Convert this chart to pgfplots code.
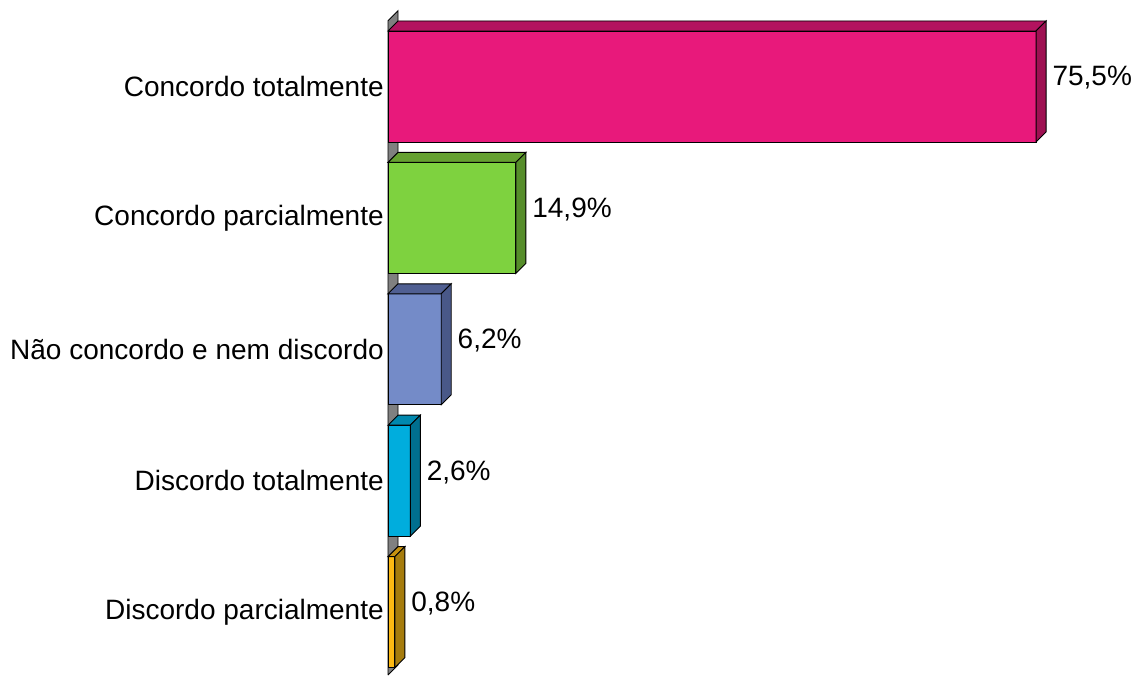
\documentclass[border=0pt]{standalone}
\usepackage{pgfplots}
\pgfplotsset{compat=1.18}
\usepackage{pgfplotstable}
\usepackage{fontspec}
\setmainfont{Liberation Sans}

\definecolor{f0}{HTML}{E8197B}\definecolor{t0}{HTML}{B3135F}\definecolor{s0}{HTML}{9E1152}
\definecolor{f1}{HTML}{7ED23F}\definecolor{t1}{HTML}{66A131}\definecolor{s1}{HTML}{568D2A}
\definecolor{f2}{HTML}{748BC8}\definecolor{t2}{HTML}{505F92}\definecolor{s2}{HTML}{495888}
\definecolor{f3}{HTML}{00ADDD}\definecolor{t3}{HTML}{0088AE}\definecolor{s3}{HTML}{006F8F}
\definecolor{f4}{HTML}{FDB913}\definecolor{t4}{HTML}{C79210}\definecolor{s4}{HTML}{A67C0D}

\pgfplotstableread{
y v
0 75.5
1 14.9
2 6.2
3 2.6
4 0.8
}\datatable

% 3D faces (top and right side) drawn at the bar end
\pgfdeclareplotmark{face3d}{%
  \pgfmathsetmacro\L{\val*6.4375}%
  \pgfmathtruncatemacro\ci{round(\idx)}%
  \pgfsetlinewidth{0.7pt}%
  \pgfsetstrokecolor{black}%
  \pgfsetfillcolor{t\ci}%
  \pgfpathmoveto{\pgfpoint{-\L pt}{41.625pt}}%
  \pgfpathlineto{\pgfpoint{0pt}{41.625pt}}%
  \pgfpathlineto{\pgfpoint{7.5pt}{49.125pt}}%
  \pgfpathlineto{\pgfpoint{7.5pt-\L pt}{49.125pt}}%
  \pgfpathclose
  \pgfusepath{fill,stroke}%
  \pgfsetfillcolor{s\ci}%
  \pgfpathmoveto{\pgfpoint{0pt}{-41.625pt}}%
  \pgfpathlineto{\pgfpoint{0pt}{41.625pt}}%
  \pgfpathlineto{\pgfpoint{7.5pt}{49.125pt}}%
  \pgfpathlineto{\pgfpoint{7.5pt}{-34.125pt}}%
  \pgfpathclose
  \pgfusepath{fill,stroke}%
}

\begin{document}
\begin{tikzpicture}
\begin{axis}[
  scale only axis,
  width=853.5pt, height=506.25pt,
  xmin=-45.2039, xmax=87.3786,
  ymin=-0.6583, ymax=4.4787,
  y dir=reverse,
  enlargelimits=false,
  clip=false,
  axis line style={draw=none},
  xtick=\empty,
  ytick={0,1,2,3,4},
  yticklabels={Concordo totalmente,Concordo parcialmente,Não concordo e nem discordo,Discordo totalmente,Discordo parcialmente},
  ytick style={draw=none},
  yticklabel style={anchor=east, inner sep=0pt, xshift=288pt, font=\fontsize{21}{25}\selectfont},
  /pgf/number format/assume math mode=true,
  bar width=0.8447,
]
% left wall
\addplot[fill=gray, draw=black, line width=0.7pt] coordinates {(0,4.4787) (1.165,4.4026) (1.165,-0.5761) (0,-0.5) (0,4.4787)};

\pgfplotsinvokeforeach{0,...,4}{
\addplot[xbar, fill=f#1, draw=black, line width=0.7pt,
  restrict y to domain=#1:#1,
  nodes near coords={\pgfmathprintnumber[fixed,fixed zerofill,precision=1,use comma]{\pgfplotspointmeta}\%},
  nodes near coords style={anchor=west, inner sep=0pt, xshift=12pt, yshift=6.5pt, font=\fontsize{21}{25}\selectfont, text=black}]
  table[x=v, y=y] {\datatable};
}

\addplot[only marks, mark=face3d,
  visualization depends on={\thisrow{v} \as \val},
  visualization depends on={\thisrow{y} \as \idx}]
  table[x=v, y=y] {\datatable};
\end{axis}
\end{tikzpicture}
\end{document}
